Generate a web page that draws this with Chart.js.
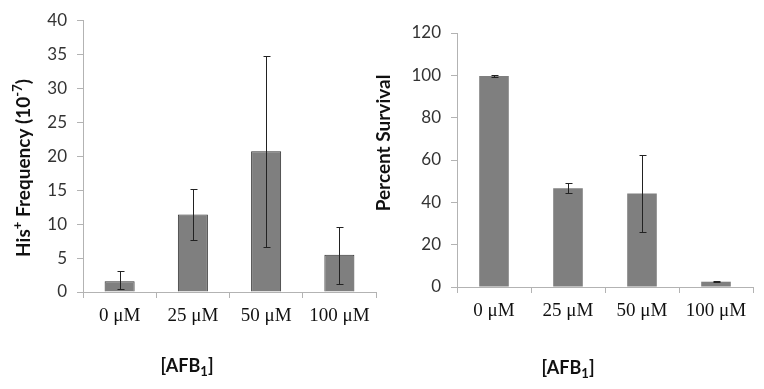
<!DOCTYPE html>
<html>
<head>
<meta charset="utf-8">
<script src="https://cdn.jsdelivr.net/npm/chart.js@4.4.1/dist/chart.umd.min.js"></script>
<style>
  html, body { margin: 0; padding: 0; background: #fff; }
  #wrap { position: relative; width: 764px; height: 389px; overflow: hidden; }
  canvas { position: absolute; top: 0; }
  #chartFreq { left: 0; }
  #chartSurv { left: 366px; }
</style>
</head>
<body>
<div id="wrap">
  <canvas id="chartFreq" width="380" height="389"></canvas>
  <canvas id="chartSurv" width="398" height="389"></canvas>
</div>
<script>
const categories = ['0 μM', '25 μM', '50 μM', '100 μM'];

const freqValues = [1.6, 11.4, 20.7, 5.5];
const freqLow = [0.4, 7.7, 6.6, 1.2];
const freqHigh = [3.1, 15.1, 34.8, 9.6];
const freqTicks = { min: 0, max: 40, step: 5 };

const survValues = [99.7, 46.6, 44.2, 2.5];
const survLow = [99.4, 44.6, 26.1, 2.3];
const survHigh = [100.0, 49.0, 62.2, 2.8];
const survTicks = { min: 0, max: 120, step: 20 };

const sansFont = "Lato, 'Open Sans', sans-serif";
const serifFont = "'Liberation Serif', 'DejaVu Serif', serif";
const axisGray = '#b3b3b3';
const barGray = '#7f7f7f';

// error bars drawn from the same y scale as the bars
const errorBarsPlugin = {
   id: 'errorBars',
   afterDatasetsDraw(chart, args, opts) {
      const ctx = chart.ctx;
      const meta = chart.getDatasetMeta(0);
      const yScale = chart.scales.y;
      ctx.save();
      ctx.strokeStyle = opts.color || '#222';
      ctx.lineWidth = 1;
      meta.data.forEach((bar, i) => {
         const x = Math.round(bar.x) + 0.5;
         const yHi = Math.round(yScale.getPixelForValue(opts.high[i])) + 0.5;
         const yLo = Math.round(yScale.getPixelForValue(opts.low[i])) + 0.5;
         ctx.beginPath();
         ctx.moveTo(x, yHi); ctx.lineTo(x, yLo);
         ctx.moveTo(x - 3, yHi); ctx.lineTo(x + 4, yHi);
         ctx.moveTo(x - 3, yLo); ctx.lineTo(x + 4, yLo);
         ctx.stroke();
      });
      ctx.restore();
   }
};

// axis titles with sub/superscripts
function drawRich(ctx, parts, x, y, rotate, size) {
   const small = Math.round(size * 0.7);
   const measure = p => {
      ctx.font = `bold ${p.sub || p.sup ? small : size}px ${sansFont}`;
      return ctx.measureText(p.text).width;
   };
   const total = parts.reduce((s, p) => s + measure(p), 0);
   ctx.save();
   ctx.translate(x, y);
   if (rotate) ctx.rotate(-Math.PI / 2);
   ctx.fillStyle = '#111';
   ctx.textBaseline = 'middle';
   ctx.textAlign = 'left';
   let cx = -total / 2;
   parts.forEach(p => {
      const w = measure(p);
      let dy = 0;
      if (p.sup) dy = -size * 0.3;
      if (p.sub) dy = size * 0.3;
      ctx.fillText(p.text, cx, dy);
      cx += w;
   });
   ctx.restore();
}

const richTitlesPlugin = {
   id: 'richTitles',
   afterDraw(chart, args, opts) {
      (opts.items || []).forEach(t => drawRich(chart.ctx, t.parts, t.x, t.y, t.rotate, t.size));
   }
};

function makeChart(id, values, low, high, ticks, box, bars, titles) {
   const ctx = document.getElementById(id).getContext('2d');
   return new Chart(ctx, {
      type: 'bar',
      data: {
         labels: categories,
         datasets: [{
            data: values,
            backgroundColor: barGray,
            borderColor: bars.border,
            borderWidth: bars.borderWidth,
            barPercentage: bars.pct,
            categoryPercentage: 1,
         }]
      },
      options: {
         responsive: false,
         animation: false,
         devicePixelRatio: 1,
         layout: {
            padding: { top: box.top, right: box.right, left: 0, bottom: 0 }
         },
         scales: {
            x: {
               grid: { drawOnChartArea: false, tickLength: 6, color: axisGray },
               border: { color: axisGray },
               ticks: {
                  padding: 7,
                  color: '#111',
                  font: { family: serifFont, size: 19 }
               },
               afterFit: s => { s.height = 389 - box.bottom; }
            },
            y: {
               min: ticks.min,
               max: ticks.max,
               grid: { drawOnChartArea: false, tickLength: 6, color: axisGray },
               border: { color: axisGray },
               ticks: {
                  stepSize: ticks.step,
                  padding: 10,
                  color: '#333',
                  font: { family: sansFont, size: 17 }
               },
               afterFit: s => { s.width = box.left; }
            }
         },
         plugins: {
            legend: { display: false },
            tooltip: { enabled: false },
            errorBars: { low: low, high: high, color: '#222' },
            richTitles: { items: titles }
         }
      },
      plugins: [errorBarsPlugin, richTitlesPlugin]
   });
}

makeChart('chartFreq', freqValues, freqLow, freqHigh, freqTicks,
   { left: 83, right: 4, top: 18, bottom: 292 },
   { border: '#333', borderWidth: 1, pct: 0.41 },
   [
      { parts: [{ text: 'His' }, { text: '+', sup: true }, { text: ' Frequency (10' }, { text: '-7', sup: true }, { text: ')' }], x: 24, y: 168, rotate: true, size: 19 },
      { parts: [{ text: '[AFB' }, { text: '1', sub: true }, { text: ']' }], x: 187, y: 366, size: 18 }
   ]);

makeChart('chartSurv', survValues, survLow, survHigh, survTicks,
   { left: 91, right: 11, top: 33, bottom: 287 },
   { border: barGray, borderWidth: 0, pct: 0.4 },
   [
      { parts: [{ text: 'Percent Survival' }], x: 18, y: 143, rotate: true, size: 19 },
      { parts: [{ text: '[AFB' }, { text: '1', sub: true }, { text: ']' }], x: 202, y: 368, size: 18 }
   ]);
</script>
</body>
</html>
